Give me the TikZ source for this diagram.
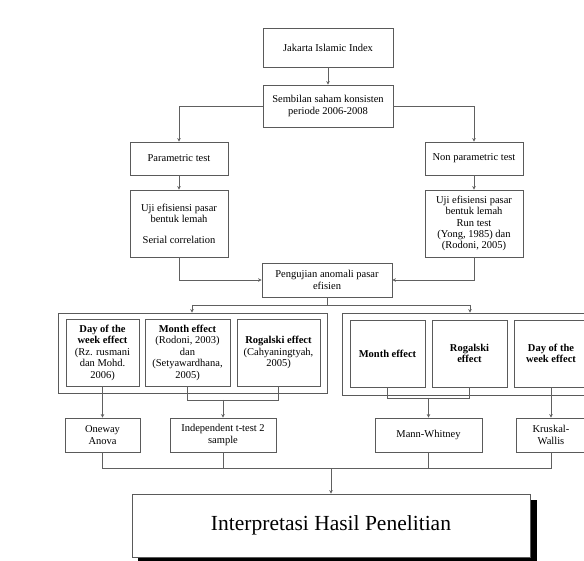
\documentclass[tikz,border=0pt]{standalone}
\usepackage{fontspec}
\setmainfont{Liberation Serif}
\usetikzlibrary{arrows.meta}
\definecolor{boxgray}{HTML}{5A5A5A}
\definecolor{linegray}{HTML}{606060}
\tikzset{
  box/.style={draw=boxgray, fill=white, line width=0.8pt, align=center, inner sep=1pt,
    font=\fontsize{10.5}{11.5}\selectfont},
  grp/.style={draw=boxgray, line width=0.8pt},
  conn/.style={draw=linegray, line width=0.7pt},
  arr/.style={conn, -{Stealth[length=3.5pt,width=3.5pt]}},
}
\begin{document}
\begin{tikzpicture}[x=1pt,y=-1pt]
\useasboundingbox (0,0) rectangle (584,561);
\fill[white] (0,0) rectangle (584,561);
\clip (0,0) rectangle (584,561);

% top chain
\node[box, minimum width=130pt, minimum height=39pt] (jii) at (328,47.5) {Jakarta Islamic Index};
\node[box, minimum width=130pt, minimum height=42pt] (sem) at (328,106) {Sembilan saham konsisten\\periode 2006-2008};
\node[box, minimum width=98pt, minimum height=33pt] (par) at (179,158.5) {Parametric test};
\node[box, minimum width=98pt, minimum height=33pt] (npar) at (474,158.5) {Non parametric test};
\node[box, minimum width=98pt, minimum height=67pt] (ujil) at (179,223.5) {Uji efisiensi pasar\\bentuk lemah\\[9pt]Serial correlation};
\node[box, minimum width=98pt, minimum height=67pt, font=\fontsize{10.5}{11.2}\selectfont] (ujir) at (474,223.5) {Uji efisiensi pasar\\bentuk lemah\\Run test\\(Yong, 1985) dan\\(Rodoni, 2005)};
\node[box, minimum width=130pt, minimum height=34pt] (peng) at (327,280) {Pengujian anomali pasar\\efisien};

% groups
\node[grp, minimum width=269pt, minimum height=80pt] (gl) at (192.5,353) {};
\node[grp, minimum width=250pt, minimum height=82pt] (gr) at (467,354) {};

\node[box, minimum width=73pt, minimum height=67pt] (dayl) at (102.5,352.5) {\textbf{Day of the}\\\textbf{week effect}\\(Rz. rusmani\\dan Mohd.\\2006)};
\node[box, minimum width=85pt, minimum height=67pt] (monl) at (187.5,352.5) {\textbf{Month effect}\\(Rodoni, 2003)\\dan\\(Setyawardhana,\\2005)};
\node[box, minimum width=83pt, minimum height=67pt] (rogl) at (278.5,352.5) {\textbf{Rogalski effect}\\(Cahyaningtyah,\\2005)};

\node[box, minimum width=75pt, minimum height=67pt] (monr) at (387.5,353.5) {\textbf{Month effect}};
\node[box, minimum width=75pt, minimum height=67pt] (rogr) at (469.5,353.5) {\textbf{Rogalski}\\\textbf{effect}};
\node[box, minimum width=74pt, minimum height=67pt] (dayr) at (551,353.5) {\textbf{Day of the}\\\textbf{week effect}};

% tests
\node[box, minimum width=75pt, minimum height=34pt] (one) at (102.5,435) {Oneway\\Anova};
\node[box, minimum width=106pt, minimum height=34pt] (ind) at (223,435) {Independent t-test 2\\sample};
\node[box, minimum width=107pt, minimum height=34pt] (mann) at (428.5,435) {Mann-Whitney};
\node[box, minimum width=70pt, minimum height=34pt] (krus) at (551,435) {Kruskal-\\Wallis};

% final
\fill[black] (138,500) rectangle (537,564);
\node[box, minimum width=398pt, minimum height=63pt, font=\fontsize{21.5}{24}\selectfont] (fin) at (331,525.5) {Interpretasi Hasil Penelitian};

% connectors
\draw[arr] (jii.south) -- (sem.north);
\draw[arr] (sem.west) -| (par.north);
\draw[arr] (sem.east) -| (npar.north);
\draw[arr] (par.south) -- (ujil.north);
\draw[arr] (npar.south) -- (ujir.north);
\draw[arr] (ujil.south) |- (peng.west);
\draw[arr] (ujir.south) |- (peng.east);

\coordinate (jl) at (192,305);
\coordinate (jr) at (470,305);
\draw[conn] (peng.south) -- (peng.south |- jl);
\draw[conn] (jl) -- (jr);
\draw[arr] (jl) -- (jl |- gl.north);
\draw[arr] (jr) -- (jr |- gr.north);

\draw[arr] (dayl.south) -- (one.north);
\coordinate (hl) at (223,400);
\draw[conn] (monl.south) |- (hl);
\draw[conn] (rogl.south) |- (hl);
\draw[arr] (hl) -- (ind.north);

\coordinate (hr) at (428.5,398);
\draw[conn] (monr.south) |- (hr);
\draw[conn] (rogr.south) |- (hr);
\draw[arr] (hr) -- (mann.north);
\draw[arr] (dayr.south) -- (krus.north);

\coordinate (hb) at (331,468);
\draw[conn] (one.south) |- (hb);
\draw[conn] (ind.south) |- (hb);
\draw[conn] (mann.south) |- (hb);
\draw[conn] (krus.south) |- (hb);
\draw[arr] (hb) -- (fin.north);
\end{tikzpicture}
\end{document}
